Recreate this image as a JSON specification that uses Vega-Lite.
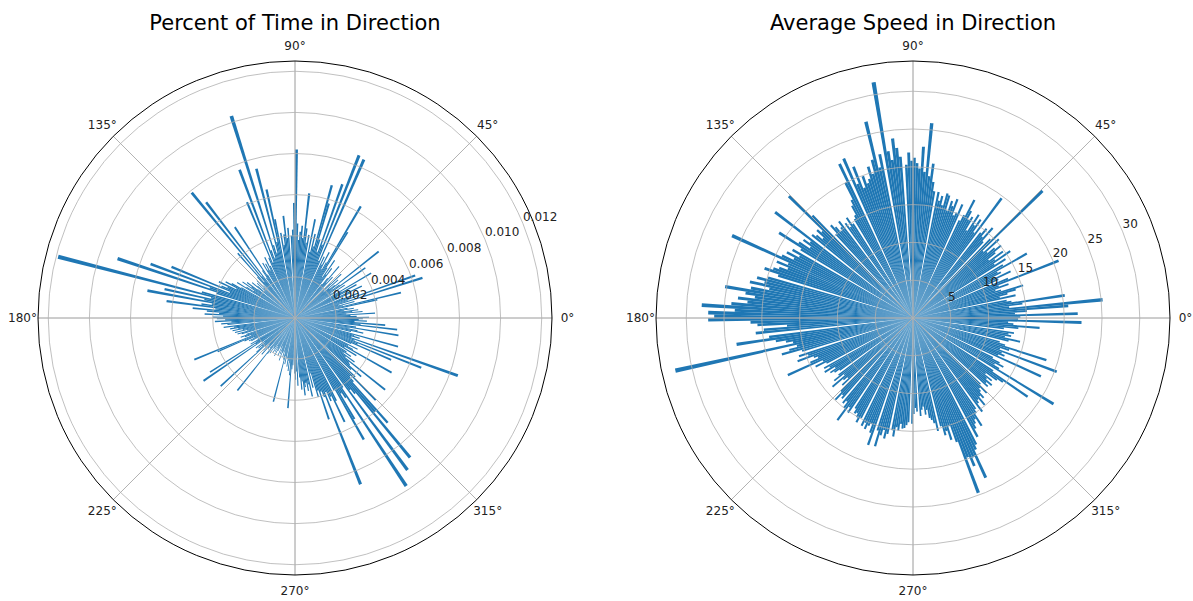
{
"$schema": "https://vega.github.io/schema/vega-lite/v6.json",
"padding": {"left": 0, "right": 0, "top": 12, "bottom": 0},
"bounds": "flush",
"spacing": 43,
"config": {"view": {"stroke": null}, "font": "DejaVu Sans"},
"datasets": {
"bars": [
{"d0":0,"d1":1,"p":0.0036,"s":14.2},{"d0":1,"d1":2,"p":0.0030,"s":21.8},{"d0":2,"d1":3,"p":0.0027,"s":13.5},{"d0":3,"d1":4,"p":0.0039,"s":15.1},{"d0":4,"d1":5,"p":0.0025,"s":20.6},{"d0":5,"d1":6,"p":0.0033,"s":25.2},{"d0":6,"d1":7,"p":0.0028,"s":12.8},{"d0":7,"d1":8,"p":0.0031,"s":14.6},{"d0":8,"d1":9,"p":0.0024,"s":20.3},{"d0":9,"d1":10,"p":0.0029,"s":13.2},
{"d0":10,"d1":11,"p":0.0026,"s":12.6},{"d0":12,"d1":13,"p":0.0041,"s":13.9},{"d0":13,"d1":14,"p":0.0053,"s":11.8},{"d0":14,"d1":15,"p":0.0024,"s":12.9},{"d0":15,"d1":16,"p":0.0030,"s":14.1},{"d0":16,"d1":17,"p":0.0022,"s":15.2},{"d0":17,"d1":18,"p":0.0065,"s":12.2},{"d0":18,"d1":19,"p":0.0027,"s":11.5},{"d0":19,"d1":20,"p":0.0062,"s":13.4},
{"d0":20,"d1":21,"p":0.0028,"s":12.1},{"d0":21,"d1":22,"p":0.0033,"s":20.7},{"d0":22,"d1":23,"p":0.0025,"s":13.6},{"d0":24,"d1":25,"p":0.0030,"s":12.4},{"d0":25,"d1":26,"p":0.0036,"s":14.3},{"d0":26,"d1":27,"p":0.0023,"s":11.9},{"d0":27,"d1":28,"p":0.0029,"s":13.1},{"d0":28,"d1":29,"p":0.0034,"s":12.7},{"d0":29,"d1":30,"p":0.0026,"s":17.3},
{"d0":30,"d1":31,"p":0.0043,"s":13.8},{"d0":32,"d1":33,"p":0.0024,"s":14.5},{"d0":33,"d1":34,"p":0.0029,"s":12.9},{"d0":34,"d1":35,"p":0.0021,"s":15.6},{"d0":35,"d1":36,"p":0.0042,"s":13.3},{"d0":36,"d1":37,"p":0.0027,"s":14.8},{"d0":37,"d1":38,"p":0.0023,"s":12.6},{"d0":38,"d1":39,"p":0.0052,"s":13.9},{"d0":39,"d1":40,"p":0.0025,"s":15.1},
{"d0":40,"d1":41,"p":0.0022,"s":14.2},{"d0":41,"d1":42,"p":0.0028,"s":13.1},{"d0":42,"d1":43,"p":0.0019,"s":15.4},{"d0":43,"d1":44,"p":0.0031,"s":12.8},{"d0":44,"d1":45,"p":0.0024,"s":24.0},{"d0":45,"d1":46,"p":0.0020,"s":14.6},{"d0":47,"d1":48,"p":0.0027,"s":13.7},{"d0":48,"d1":49,"p":0.0023,"s":15.9},{"d0":49,"d1":50,"p":0.0033,"s":14.1},
{"d0":50,"d1":51,"p":0.0025,"s":15.3},{"d0":51,"d1":52,"p":0.0021,"s":14.4},{"d0":53,"d1":54,"p":0.0030,"s":19.7},{"d0":54,"d1":55,"p":0.0026,"s":13.9},{"d0":55,"d1":56,"p":0.0034,"s":15.8},{"d0":56,"d1":57,"p":0.0024,"s":14.7},{"d0":57,"d1":58,"p":0.0029,"s":16.2},{"d0":58,"d1":59,"p":0.0049,"s":13.6},{"d0":59,"d1":60,"p":0.0063,"s":15.5},
{"d0":60,"d1":61,"p":0.0031,"s":14.9},{"d0":61,"d1":62,"p":0.0027,"s":16.1},{"d0":62,"d1":63,"p":0.0036,"s":17.6},{"d0":63,"d1":64,"p":0.0029,"s":15.2},{"d0":64,"d1":65,"p":0.0033,"s":14.3},{"d0":66,"d1":67,"p":0.0084,"s":16.4},{"d0":67,"d1":68,"p":0.0030,"s":15.1},{"d0":68,"d1":69,"p":0.0085,"s":14.6},{"d0":69,"d1":70,"p":0.0038,"s":16.8},
{"d0":70,"d1":71,"p":0.0069,"s":15.7},{"d0":71,"d1":72,"p":0.0034,"s":16.3},{"d0":72,"d1":73,"p":0.0040,"s":14.9},{"d0":73,"d1":74,"p":0.0058,"s":16.9},{"d0":74,"d1":75,"p":0.0067,"s":17.1},{"d0":75,"d1":76,"p":0.0036,"s":15.4},{"d0":76,"d1":77,"p":0.0042,"s":16.6},{"d0":77,"d1":78,"p":0.0033,"s":15.9},{"d0":78,"d1":79,"p":0.0049,"s":17.0},
{"d0":80,"d1":81,"p":0.0041,"s":17.0},{"d0":81,"d1":82,"p":0.0037,"s":18.2},{"d0":82,"d1":83,"p":0.0044,"s":20.6},{"d0":83,"d1":84,"p":0.0061,"s":18.9},{"d0":84,"d1":85,"p":0.0039,"s":25.9},{"d0":85,"d1":86,"p":0.0045,"s":19.4},{"d0":86,"d1":87,"p":0.0042,"s":22.7},{"d0":87,"d1":88,"p":0.0038,"s":19.8},{"d0":88,"d1":89,"p":0.0046,"s":20.5},{"d0":89,"d1":90,"p":0.0082,"s":21.2},
{"d0":90,"d1":91,"p":0.0056,"s":20.8},{"d0":91,"d1":92,"p":0.0043,"s":21.9},{"d0":92,"d1":93,"p":0.0040,"s":20.3},{"d0":94,"d1":95,"p":0.0044,"s":21.4},{"d0":95,"d1":96,"p":0.0039,"s":22.6},{"d0":96,"d1":97,"p":0.0050,"s":23.9},{"d0":97,"d1":98,"p":0.0041,"s":21.1},{"d0":98,"d1":99,"p":0.0036,"s":22.3},{"d0":99,"d1":100,"p":0.0042,"s":31.6},
{"d0":101,"d1":102,"p":0.0049,"s":22.1},{"d0":102,"d1":103,"p":0.0064,"s":20.4},{"d0":103,"d1":104,"p":0.0038,"s":26.7},{"d0":104,"d1":105,"p":0.0075,"s":21.6},{"d0":105,"d1":106,"p":0.0033,"s":19.8},{"d0":106,"d1":107,"p":0.0037,"s":20.9},{"d0":107,"d1":108,"p":0.0103,"s":19.3},{"d0":108,"d1":109,"p":0.0031,"s":18.8},{"d0":109,"d1":110,"p":0.0035,"s":19.9},
{"d0":110,"d1":111,"p":0.0077,"s":18.4},{"d0":111,"d1":112,"p":0.0029,"s":21.5},{"d0":112,"d1":113,"p":0.0061,"s":19.2},{"d0":113,"d1":114,"p":0.0032,"s":23.0},{"d0":115,"d1":116,"p":0.0028,"s":22.6},{"d0":116,"d1":117,"p":0.0033,"s":20.0},{"d0":117,"d1":118,"p":0.0026,"s":17.6},{"d0":118,"d1":119,"p":0.0030,"s":16.9},{"d0":119,"d1":120,"p":0.0027,"s":15.6},
{"d0":120,"d1":121,"p":0.0031,"s":15.2},{"d0":122,"d1":123,"p":0.0025,"s":14.8},{"d0":123,"d1":124,"p":0.0053,"s":15.9},{"d0":124,"d1":125,"p":0.0028,"s":14.6},{"d0":125,"d1":126,"p":0.0024,"s":15.4},{"d0":127,"d1":128,"p":0.0071,"s":16.1},{"d0":128,"d1":129,"p":0.0026,"s":15.3},{"d0":129,"d1":130,"p":0.0079,"s":14.9},
{"d0":130,"d1":131,"p":0.0023,"s":15.8},{"d0":131,"d1":132,"p":0.0042,"s":16.4},{"d0":132,"d1":133,"p":0.0027,"s":15.1},{"d0":134,"d1":135,"p":0.0022,"s":19.0},{"d0":135,"d1":136,"p":0.0026,"s":23.0},{"d0":136,"d1":137,"p":0.0021,"s":16.6},{"d0":137,"d1":138,"p":0.0025,"s":17.2},{"d0":138,"d1":139,"p":0.0020,"s":15.9},{"d0":139,"d1":140,"p":0.0024,"s":16.8},
{"d0":140,"d1":141,"p":0.0027,"s":17.3},{"d0":142,"d1":143,"p":0.0023,"s":23.0},{"d0":143,"d1":144,"p":0.0029,"s":16.9},{"d0":144,"d1":145,"p":0.0026,"s":17.8},{"d0":145,"d1":146,"p":0.0031,"s":16.5},{"d0":146,"d1":147,"p":0.0024,"s":18.1},{"d0":147,"d1":148,"p":0.0028,"s":21.0},{"d0":148,"d1":149,"p":0.0033,"s":17.4},
{"d0":150,"d1":151,"p":0.0030,"s":18.3},{"d0":151,"d1":152,"p":0.0035,"s":17.1},{"d0":152,"d1":153,"p":0.0038,"s":18.8},{"d0":153,"d1":154,"p":0.0032,"s":17.6},{"d0":154,"d1":155,"p":0.0041,"s":19.2},{"d0":155,"d1":156,"p":0.0036,"s":26.3},{"d0":156,"d1":157,"p":0.0039,"s":18.0},{"d0":157,"d1":158,"p":0.0065,"s":19.5},{"d0":158,"d1":159,"p":0.0034,"s":17.8},{"d0":159,"d1":160,"p":0.0075,"s":18.9},
{"d0":160,"d1":161,"p":0.0044,"s":19.6},{"d0":161,"d1":162,"p":0.0091,"s":20.7},{"d0":162,"d1":163,"p":0.0040,"s":18.7},{"d0":164,"d1":165,"p":0.0047,"s":19.9},{"d0":165,"d1":166,"p":0.0119,"s":21.3},{"d0":166,"d1":167,"p":0.0042,"s":20.2},{"d0":167,"d1":168,"p":0.0065,"s":22.1},{"d0":168,"d1":169,"p":0.0045,"s":19.4},{"d0":169,"d1":170,"p":0.0073,"s":21.8},
{"d0":170,"d1":171,"p":0.0041,"s":25.2},{"d0":171,"d1":172,"p":0.0046,"s":22.4},{"d0":172,"d1":173,"p":0.0063,"s":21.1},{"d0":173,"d1":174,"p":0.0039,"s":23.3},{"d0":174,"d1":175,"p":0.0050,"s":22.0},{"d0":175,"d1":176,"p":0.0043,"s":24.1},{"d0":176,"d1":177,"p":0.0037,"s":28.0},{"d0":177,"d1":178,"p":0.0044,"s":23.6},{"d0":178,"d1":179,"p":0.0035,"s":27.1},{"d0":179,"d1":180,"p":0.0040,"s":26.3},
{"d0":180,"d1":181,"p":0.0038,"s":27.1},{"d0":181,"d1":182,"p":0.0034,"s":21.5},{"d0":182,"d1":183,"p":0.0039,"s":20.6},{"d0":183,"d1":184,"p":0.0031,"s":16.7},{"d0":184,"d1":185,"p":0.0036,"s":19.8},{"d0":185,"d1":186,"p":0.0033,"s":20.9},{"d0":187,"d1":188,"p":0.0035,"s":19.2},{"d0":188,"d1":189,"p":0.0030,"s":23.6},{"d0":189,"d1":190,"p":0.0032,"s":18.4},
{"d0":190,"d1":191,"p":0.0028,"s":17.1},{"d0":191,"d1":192,"p":0.0031,"s":16.2},{"d0":192,"d1":193,"p":0.0026,"s":32.2},{"d0":193,"d1":194,"p":0.0030,"s":15.8},{"d0":194,"d1":195,"p":0.0024,"s":16.9},{"d0":195,"d1":196,"p":0.0029,"s":18.0},{"d0":196,"d1":197,"p":0.0027,"s":15.3},{"d0":198,"d1":199,"p":0.0025,"s":15.9},{"d0":199,"d1":200,"p":0.0028,"s":14.7},
{"d0":200,"d1":201,"p":0.0026,"s":16.3},{"d0":201,"d1":202,"p":0.0023,"s":14.1},{"d0":202,"d1":203,"p":0.0053,"s":13.6},{"d0":203,"d1":204,"p":0.0041,"s":14.8},{"d0":204,"d1":205,"p":0.0027,"s":18.2},{"d0":205,"d1":206,"p":0.0022,"s":13.2},{"d0":206,"d1":207,"p":0.0025,"s":14.4},{"d0":207,"d1":208,"p":0.0024,"s":12.9},{"d0":209,"d1":210,"p":0.0021,"s":13.5},
{"d0":210,"d1":211,"p":0.0025,"s":12.8},{"d0":211,"d1":212,"p":0.0022,"s":13.7},{"d0":212,"d1":213,"p":0.0049,"s":12.2},{"d0":213,"d1":214,"p":0.0023,"s":13.1},{"d0":214,"d1":215,"p":0.0054,"s":12.6},{"d0":215,"d1":216,"p":0.0020,"s":11.9},{"d0":217,"d1":218,"p":0.0024,"s":12.4},{"d0":218,"d1":219,"p":0.0019,"s":13.3},{"d0":219,"d1":220,"p":0.0023,"s":11.8},
{"d0":220,"d1":221,"p":0.0021,"s":14.0},{"d0":221,"d1":222,"p":0.0025,"s":12.3},{"d0":222,"d1":223,"p":0.0049,"s":11.7},{"d0":223,"d1":224,"p":0.0020,"s":12.9},{"d0":225,"d1":226,"p":0.0022,"s":13.6},{"d0":226,"d1":227,"p":0.0018,"s":14.9},{"d0":227,"d1":228,"p":0.0024,"s":13.8},{"d0":228,"d1":229,"p":0.0020,"s":14.2},
{"d0":230,"d1":231,"p":0.0019,"s":14.6},{"d0":231,"d1":232,"p":0.0045,"s":14.1},{"d0":232,"d1":233,"p":0.0022,"s":15.0},{"d0":233,"d1":234,"p":0.0017,"s":16.8},{"d0":234,"d1":235,"p":0.0021,"s":14.5},{"d0":235,"d1":236,"p":0.0018,"s":15.2},{"d0":237,"d1":238,"p":0.0020,"s":14.2},{"d0":238,"d1":239,"p":0.0016,"s":14.8},{"d0":239,"d1":240,"p":0.0019,"s":14.6},
{"d0":240,"d1":241,"p":0.0017,"s":15.1},{"d0":241,"d1":242,"p":0.0021,"s":15.7},{"d0":242,"d1":243,"p":0.0018,"s":14.9},{"d0":244,"d1":245,"p":0.0016,"s":15.8},{"d0":245,"d1":246,"p":0.0020,"s":15.2},{"d0":246,"d1":247,"p":0.0015,"s":16.0},{"d0":247,"d1":248,"p":0.0019,"s":15.4},{"d0":248,"d1":249,"p":0.0017,"s":15.1},{"d0":249,"d1":250,"p":0.0022,"s":16.2},
{"d0":250,"d1":251,"p":0.0018,"s":17.8},{"d0":252,"d1":253,"p":0.0020,"s":15.6},{"d0":253,"d1":254,"p":0.0017,"s":17.7},{"d0":254,"d1":255,"p":0.0021,"s":16.1},{"d0":255,"d1":256,"p":0.0042,"s":15.3},{"d0":256,"d1":257,"p":0.0019,"s":16.4},{"d0":257,"d1":258,"p":0.0023,"s":15.7},{"d0":259,"d1":260,"p":0.0020,"s":15.1},
{"d0":260,"d1":261,"p":0.0024,"s":15.9},{"d0":261,"d1":262,"p":0.0021,"s":14.6},{"d0":262,"d1":263,"p":0.0026,"s":15.0},{"d0":263,"d1":264,"p":0.0022,"s":14.1},{"d0":264,"d1":265,"p":0.0028,"s":14.7},{"d0":265,"d1":266,"p":0.0044,"s":14.6},{"d0":266,"d1":267,"p":0.0025,"s":14.2},{"d0":267,"d1":268,"p":0.0023,"s":13.8},{"d0":269,"d1":270,"p":0.0027,"s":14.0},
{"d0":270,"d1":271,"p":0.0030,"s":12.7},{"d0":271,"d1":272,"p":0.0026,"s":11.9},{"d0":272,"d1":273,"p":0.0033,"s":12.4},{"d0":274,"d1":275,"p":0.0029,"s":13.0},{"d0":275,"d1":276,"p":0.0035,"s":12.2},{"d0":276,"d1":277,"p":0.0031,"s":11.8},{"d0":277,"d1":278,"p":0.0038,"s":12.9},{"d0":278,"d1":279,"p":0.0034,"s":12.3},{"d0":279,"d1":280,"p":0.0032,"s":13.4},
{"d0":280,"d1":281,"p":0.0036,"s":13.7},{"d0":281,"d1":282,"p":0.0033,"s":14.2},{"d0":282,"d1":283,"p":0.0039,"s":15.3},{"d0":284,"d1":285,"p":0.0035,"s":14.8},{"d0":285,"d1":286,"p":0.0028,"s":16.1},{"d0":286,"d1":287,"p":0.0040,"s":15.6},{"d0":287,"d1":288,"p":0.0037,"s":16.9},{"d0":288,"d1":289,"p":0.0052,"s":15.1},{"d0":289,"d1":290,"p":0.0038,"s":17.4},
{"d0":290,"d1":291,"p":0.0041,"s":24.7},{"d0":291,"d1":292,"p":0.0087,"s":19.8},{"d0":292,"d1":293,"p":0.0039,"s":21.2},{"d0":293,"d1":294,"p":0.0044,"s":20.1},{"d0":294,"d1":295,"p":0.0042,"s":23.2},{"d0":295,"d1":296,"p":0.0056,"s":19.3},{"d0":296,"d1":297,"p":0.0045,"s":18.7},{"d0":298,"d1":299,"p":0.0040,"s":17.9},{"d0":299,"d1":300,"p":0.0068,"s":16.8},
{"d0":300,"d1":301,"p":0.0057,"s":16.2},{"d0":301,"d1":302,"p":0.0043,"s":15.7},{"d0":302,"d1":303,"p":0.0046,"s":16.9},{"d0":303,"d1":304,"p":0.0098,"s":15.1},{"d0":304,"d1":305,"p":0.0041,"s":14.6},{"d0":306,"d1":307,"p":0.0092,"s":15.4},{"d0":307,"d1":308,"p":0.0044,"s":14.2},{"d0":308,"d1":309,"p":0.0047,"s":13.8},{"d0":309,"d1":310,"p":0.0088,"s":14.9},
{"d0":310,"d1":311,"p":0.0060,"s":13.6},{"d0":311,"d1":312,"p":0.0068,"s":14.1},{"d0":312,"d1":313,"p":0.0042,"s":13.2},{"d0":313,"d1":314,"p":0.0039,"s":12.8},{"d0":314,"d1":315,"p":0.0056,"s":13.9},{"d0":315,"d1":316,"p":0.0041,"s":12.5},{"d0":317,"d1":318,"p":0.0037,"s":13.4},{"d0":318,"d1":319,"p":0.0043,"s":12.9},{"d0":319,"d1":320,"p":0.0035,"s":13.7},
{"d0":320,"d1":321,"p":0.0034,"s":12.6},{"d0":321,"d1":322,"p":0.0056,"s":13.3},{"d0":322,"d1":323,"p":0.0031,"s":12.1},{"d0":323,"d1":324,"p":0.0036,"s":13.8},{"d0":324,"d1":325,"p":0.0029,"s":14.6},{"d0":325,"d1":326,"p":0.0033,"s":18.4},{"d0":326,"d1":327,"p":0.0030,"s":12.7},{"d0":328,"d1":329,"p":0.0035,"s":21.8},{"d0":329,"d1":330,"p":0.0028,"s":13.2},
{"d0":330,"d1":331,"p":0.0054,"s":12.4},{"d0":331,"d1":332,"p":0.0032,"s":13.6},{"d0":332,"d1":333,"p":0.0029,"s":12.9},{"d0":333,"d1":334,"p":0.0034,"s":11.8},{"d0":335,"d1":336,"p":0.0030,"s":18.6},{"d0":336,"d1":337,"p":0.0051,"s":12.3},{"d0":337,"d1":338,"p":0.0033,"s":13.1},{"d0":338,"d1":339,"p":0.0066,"s":12.6},{"d0":339,"d1":340,"p":0.0031,"s":20.3},
{"d0":340,"d1":341,"p":0.0084,"s":12.2},{"d0":341,"d1":342,"p":0.0029,"s":13.4},{"d0":342,"d1":343,"p":0.0033,"s":18.5},{"d0":343,"d1":344,"p":0.0030,"s":12.7},{"d0":344,"d1":345,"p":0.0052,"s":11.9},{"d0":346,"d1":347,"p":0.0028,"s":13.0},{"d0":347,"d1":348,"p":0.0034,"s":14.5},{"d0":348,"d1":349,"p":0.0031,"s":12.4},{"d0":349,"d1":350,"p":0.0027,"s":13.2},
{"d0":350,"d1":351,"p":0.0051,"s":12.8},{"d0":351,"d1":352,"p":0.0030,"s":13.5},{"d0":353,"d1":354,"p":0.0050,"s":12.1},{"d0":354,"d1":355,"p":0.0032,"s":14.0},{"d0":355,"d1":356,"p":0.0044,"s":16.8},{"d0":356,"d1":357,"p":0.0029,"s":13.3},{"d0":357,"d1":358,"p":0.0035,"s":12.6},{"d0":358,"d1":359,"p":0.0031,"s":22.3},{"d0":359,"d1":360,"p":0.0033,"s":13.9}
],
"ringsL": [{"r":0.002,"t":"0.002"},{"r":0.004,"t":"0.004"},{"r":0.006,"t":"0.006"},{"r":0.008,"t":"0.008"},{"r":0.010,"t":"0.010"},{"r":0.012,"t":"0.012"}],
"ringsR": [{"r":5,"t":"5"},{"r":10,"t":"10"},{"r":15,"t":"15"},{"r":20,"t":"20"},{"r":25,"t":"25"},{"r":30,"t":"30"}],
"spokesL": [{"a":0,"t":"0°","r":0.0125},{"a":45,"t":"45°","r":0.0125},{"a":90,"t":"90°","r":0.0125},{"a":135,"t":"135°","r":0.0125},{"a":180,"t":"180°","r":0.0125},{"a":225,"t":"225°","r":0.0125},{"a":270,"t":"270°","r":0.0125},{"a":315,"t":"315°","r":0.0125}],
"spokesR": [{"a":0,"t":"0°","r":34},{"a":45,"t":"45°","r":34},{"a":90,"t":"90°","r":34},{"a":135,"t":"135°","r":34},{"a":180,"t":"180°","r":34},{"a":225,"t":"225°","r":34},{"a":270,"t":"270°","r":34},{"a":315,"t":"315°","r":34}],
"outerL": [{"r":0.0125}],
"outerR": [{"r":34}]
},
"hconcat": [
{
"width": 590, "height": 522,
"title": {"text": "Percent of Time in Direction", "fontSize": 21, "fontWeight": "normal", "color": "#000", "anchor": "middle", "baseline": "bottom", "offset": -15, "frame": "group"},
"layer": [
{"data": {"name": "bars"}, "mark": {"type": "arc", "color": "#1f77b4"},
 "encoding": {
  "theta": {"field": "d0", "type": "quantitative", "stack": null, "scale": {"domain": [0, 360], "range": [1.5707963, -4.712389]}},
  "theta2": {"field": "d1"},
  "radius": {"field": "p", "type": "quantitative", "stack": null, "scale": {"type": "linear", "domain": [0, 0.0125], "range": [0, 257]}}
 }},
{"data": {"name": "ringsL"}, "mark": {"type": "arc", "filled": false, "stroke": "#b0b0b0", "strokeWidth": 0.8},
 "encoding": {"radius": {"field": "r", "type": "quantitative", "stack": null}}},
{"data": {"name": "spokesL"}, "mark": {"type": "arc", "filled": false, "stroke": "#b0b0b0", "strokeWidth": 0.8},
 "encoding": {
  "theta": {"field": "a", "type": "quantitative", "stack": null},
  "theta2": {"field": "a"},
  "radius": {"field": "r", "type": "quantitative", "stack": null}
 }},
{"data": {"name": "outerL"}, "mark": {"type": "arc", "filled": false, "stroke": "#000", "strokeWidth": 1},
 "encoding": {"radius": {"field": "r", "type": "quantitative", "stack": null}}},
{"data": {"name": "ringsL"}, "mark": {"type": "text", "align": "left", "baseline": "bottom", "fontSize": 12, "color": "#222"},
 "encoding": {
  "theta": {"datum": 22.5, "type": "quantitative"},
  "radius": {"field": "r", "type": "quantitative"},
  "text": {"field": "t"}
 }},
{"data": {"name": "spokesL"}, "mark": {"type": "text", "align": "center", "baseline": "middle", "fontSize": 12, "color": "#222", "radiusOffset": 15.5},
 "encoding": {
  "theta": {"field": "a", "type": "quantitative"},
  "radius": {"field": "r", "type": "quantitative"},
  "text": {"field": "t"}
 }}
]
},
{
"width": 560, "height": 522,
"title": {"text": "Average Speed in Direction", "fontSize": 21, "fontWeight": "normal", "color": "#000", "anchor": "middle", "baseline": "bottom", "offset": -15, "frame": "group"},
"layer": [
{"data": {"name": "bars"}, "mark": {"type": "arc", "color": "#1f77b4"},
 "encoding": {
  "theta": {"field": "d0", "type": "quantitative", "stack": null, "scale": {"domain": [0, 360], "range": [1.5707963, -4.712389]}},
  "theta2": {"field": "d1"},
  "radius": {"field": "s", "type": "quantitative", "stack": null, "scale": {"type": "linear", "domain": [0, 34], "range": [0, 257]}}
 }},
{"data": {"name": "ringsR"}, "mark": {"type": "arc", "filled": false, "stroke": "#b0b0b0", "strokeWidth": 0.8},
 "encoding": {"radius": {"field": "r", "type": "quantitative", "stack": null}}},
{"data": {"name": "spokesR"}, "mark": {"type": "arc", "filled": false, "stroke": "#b0b0b0", "strokeWidth": 0.8},
 "encoding": {
  "theta": {"field": "a", "type": "quantitative", "stack": null},
  "theta2": {"field": "a"},
  "radius": {"field": "r", "type": "quantitative", "stack": null}
 }},
{"data": {"name": "outerR"}, "mark": {"type": "arc", "filled": false, "stroke": "#000", "strokeWidth": 1},
 "encoding": {"radius": {"field": "r", "type": "quantitative", "stack": null}}},
{"data": {"name": "ringsR"}, "mark": {"type": "text", "align": "left", "baseline": "bottom", "fontSize": 12, "color": "#222"},
 "encoding": {
  "theta": {"datum": 22.5, "type": "quantitative"},
  "radius": {"field": "r", "type": "quantitative"},
  "text": {"field": "t"}
 }},
{"data": {"name": "spokesR"}, "mark": {"type": "text", "align": "center", "baseline": "middle", "fontSize": 12, "color": "#222", "radiusOffset": 15.5},
 "encoding": {
  "theta": {"field": "a", "type": "quantitative"},
  "radius": {"field": "r", "type": "quantitative"},
  "text": {"field": "t"}
 }}
]
}
]
}
